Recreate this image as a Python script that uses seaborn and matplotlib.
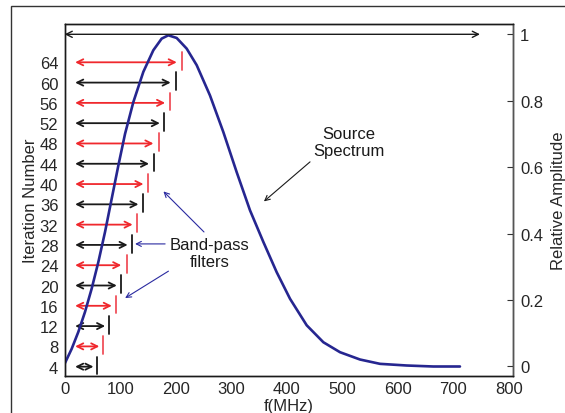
import pandas as pd
import seaborn as sns
import matplotlib.pyplot as plt
from matplotlib.patches import Rectangle

# Source spectrum (MHz, relative amplitude)
freq = [0, 12.7, 24.7, 36.7, 48.7, 60.7, 72.8, 84.8, 96.8, 108.8, 123.8, 141.8,
        159.8, 174.8, 186.8, 201.8, 219.8, 237.9, 261.8, 285.8, 309.9, 333.9,
        357.9, 381.9, 405.9, 436, 466, 496, 532, 568, 616, 664, 712]
amp = [0.008, 0.053, 0.104, 0.164, 0.234, 0.314, 0.405, 0.505, 0.605, 0.70,
       0.796, 0.887, 0.952, 0.987, 0.997, 0.989, 0.957, 0.907, 0.816, 0.706,
       0.585, 0.47, 0.375, 0.284, 0.204, 0.124, 0.073, 0.043, 0.021, 0.008,
       0.003, 0.0, 0.0]

# Band-pass filters per iteration
iterations = [4, 8, 12, 16, 20, 24, 28, 32, 36, 40, 44, 48, 52, 56, 60, 64]
arrow_start = 19
arrow_end = [52, 62.5, 73, 85, 94, 102, 113.5, 122.5, 133, 142, 152, 160, 171.5, 181, 191, 202]
filter_edge = [59, 69, 80.5, 92, 101, 112, 122, 130.5, 140.5, 150, 161, 170, 179, 190, 200.5, 212]

df = pd.DataFrame({'f': freq, 'amp': amp})

sns.set_style('white')
plt.rcParams['font.family'] = ['Liberation Sans', 'DejaVu Sans']
plt.rcParams['font.size'] = 12

fig = plt.figure(figsize=(5.65, 4.14), dpi=100)
fig.patches.append(Rectangle((11 / 565, -0.2), 1.2, 1.2 - 7 / 414,
                             transform=fig.transFigure, fill=False,
                             edgecolor='#333333', lw=1.0))
ax = fig.add_axes([64.6 / 565, 37.3 / 414, 448.4 / 565, 351.7 / 414])
ax2 = ax.twinx()

# filters (left axis: iteration number)
for i, (it, e, t) in enumerate(zip(iterations, arrow_end, filter_edge)):
    red = i % 2 == 1
    c = '#f0282d' if red else '#1a1a1a'
    tc = '#f0505a' if red else '#1a1a1a'
    ax.annotate('', xy=(e, it), xytext=(arrow_start, it),
                arrowprops=dict(arrowstyle='<->', color=c, lw=1.3,
                                mutation_scale=11, shrinkA=0, shrinkB=0))
    ax.plot([t, t], [it - 1.5, it + 2.0], color=tc, lw=1.3)

xmax = 807.5
ax.set_xlim(0, xmax)
ax.set_ylim(2.22, 71.55)
ax.set_yticks(iterations)
ax.set_ylabel('Iteration Number', fontsize=12, labelpad=1)
ax.set_xticks(range(0, 801, 100))
ax.set_xlabel('f(MHz)', fontsize=12, labelpad=1)
ax.tick_params(axis='y', left=False, right=False, length=0, pad=4.5, labelsize=12)
ax.tick_params(axis='x', direction='in', length=4, top=False, pad=4,
               labelsize=12, color='#333333')

# spectrum (right axis: relative amplitude)
sns.lineplot(data=df, x='f', y='amp', ax=ax2, color='#262690', lw=1.9)
ax2.annotate('', xy=(748, 1.0), xytext=(0, 1.0),
             arrowprops=dict(arrowstyle='<->', color='#1a1a1a', lw=1.0,
                             mutation_scale=11, shrinkA=0, shrinkB=0))
ax2.set_ylim(-0.0277, 1.031)
ax2.set_xlim(0, xmax)
ax2.set_yticks([0, 0.2, 0.4, 0.6, 0.8, 1])
ax2.set_yticklabels(['0', '0.2', '0.4', '0.6', '0.8', '1'])
ax2.set_ylabel('Relative Amplitude', fontsize=12, labelpad=6)
ax2.set_xlabel('')
ax2.tick_params(axis='y', direction='in', length=4, pad=5, labelsize=12,
                color='#333333')

for a in (ax, ax2):
    for s in a.spines.values():
        s.set_color('#1a1a1a')
        s.set_linewidth(1.0)
ax2.spines['right'].set_color('#555555')

# annotations
ax2.text(512, 0.675, 'Source\nSpectrum', ha='center', va='center',
         fontsize=12, linespacing=1.2, color='#1a1a1a')
ax2.annotate('', xy=(359, 0.497), xytext=(442, 0.616),
             arrowprops=dict(arrowstyle='->', color='#1a1a1a', lw=0.8,
                             mutation_scale=9, shrinkA=0, shrinkB=0))
ax2.text(261, 0.342, 'Band-pass\nfilters', ha='center', va='center',
         fontsize=12, linespacing=1.2, color='#1a1a1a')
for (x0, y0), (x1, y1) in [((251, 0.405), (178, 0.527)),
                           ((181, 0.369), (127, 0.369)),
                           ((187, 0.287), (109, 0.206))]:
    ax2.annotate('', xy=(x1, y1), xytext=(x0, y0),
                 arrowprops=dict(arrowstyle='->', color='#2a2aa0', lw=0.8,
                                 mutation_scale=9, shrinkA=0, shrinkB=0))

fig.savefig('out.png', dpi=100)
